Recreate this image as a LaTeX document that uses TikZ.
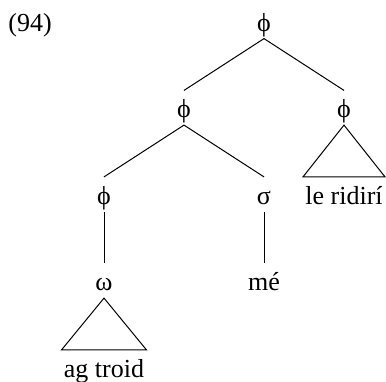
\documentclass[tikz,border=0pt]{standalone}
\usepackage{fontspec}
\setmainfont{Liberation Serif}
\usepackage{tikz}

\begin{document}
\begin{tikzpicture}[level distance=43.25pt, sibling distance=80pt,
  parent anchor=south, child anchor=north,
  every node/.style = {font=\fontsize{13}{15}\selectfont,
    text height=12.35pt, text depth=2.6pt, inner sep=1pt},
  edge from parent/.style = {draw, line width=.5pt},
  roof/.style = {edge from parent path={(\tikzparentnode.south)
    -- (\tikzchildnode.north west) -- (\tikzchildnode.north east) -- cycle}}]
  \useasboundingbox (0,0) rectangle (193pt,-190.5pt);
  \node[anchor=base west] (ex) at (3pt,-15.5pt) {(94)};
  \node (top) at (132pt,-10.625pt) {ϕ}
    child { node (phiL) {ϕ}
        child { node (phiLL) {ϕ}
            child { node (omega) {ω}
                child[roof] { node (agtroid) {ag troid} }
            }
        }
        child { node (sigma) {σ}
            child { node (me) {mé} }
        }
    }
    child { node (phiR) {ϕ}
        child[roof] { node (ridiri) {le ridirí} }
    };
\end{tikzpicture}
\end{document}
